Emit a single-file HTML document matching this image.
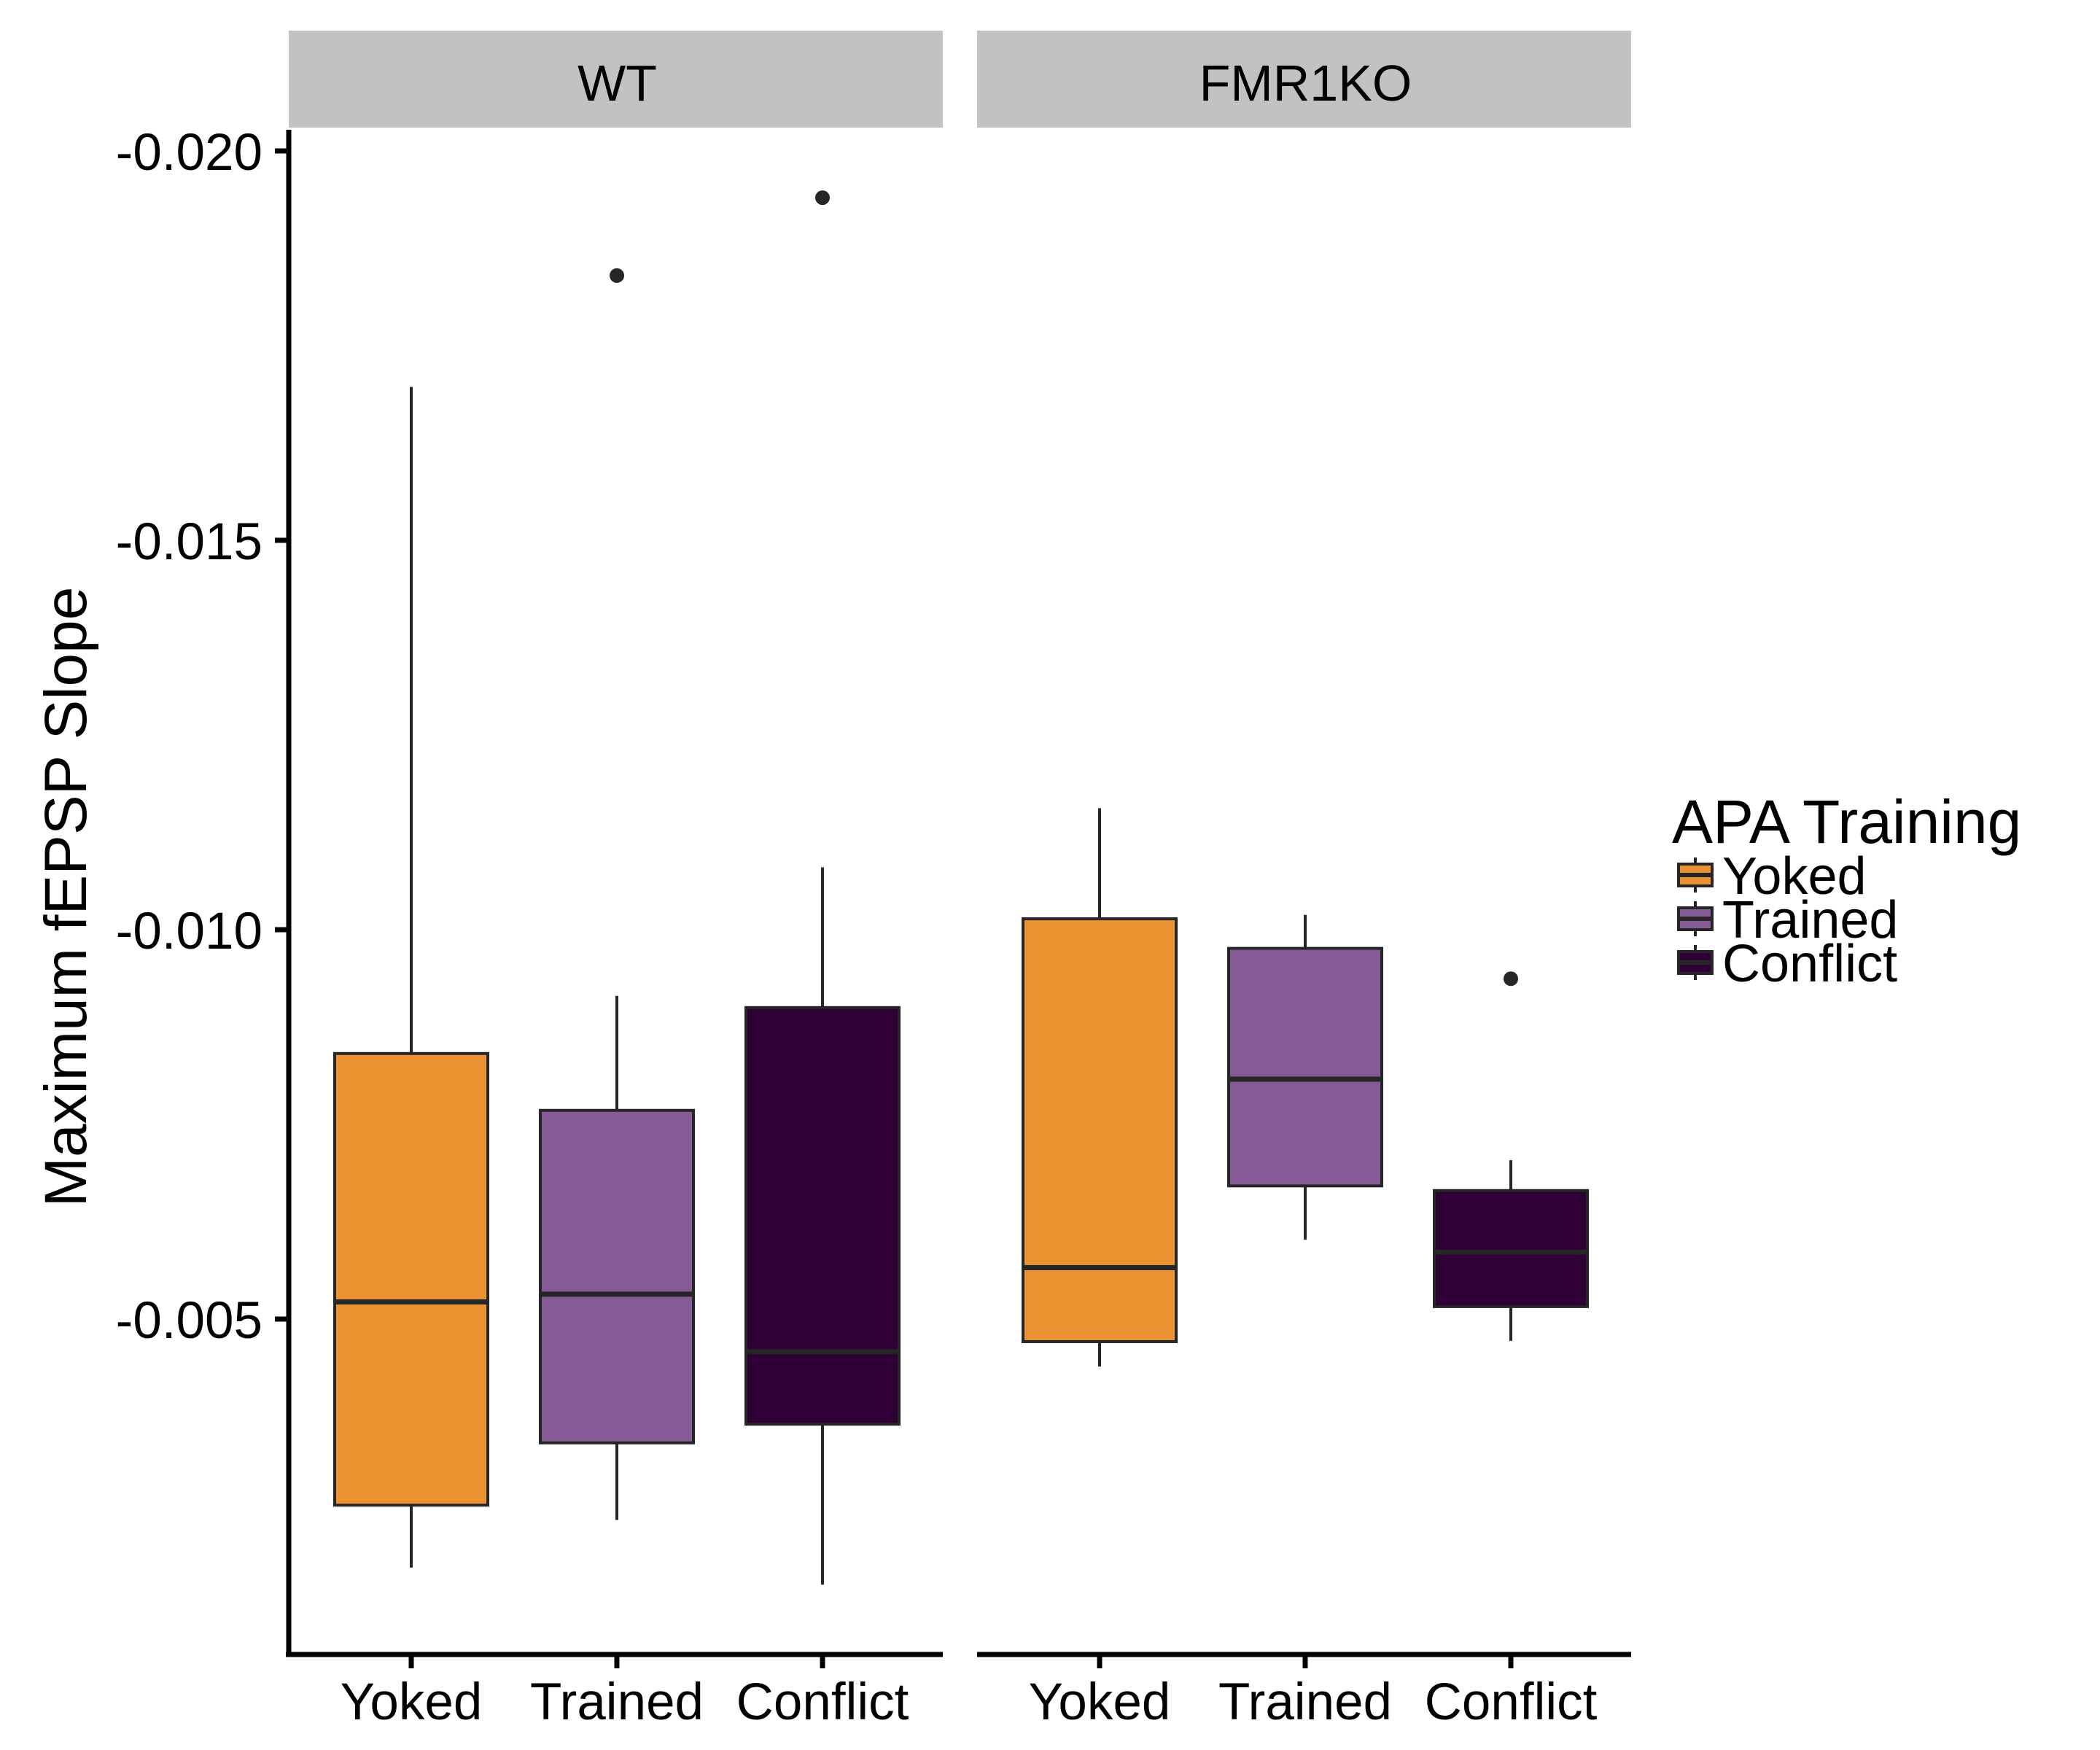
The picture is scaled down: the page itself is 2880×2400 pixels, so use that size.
<!DOCTYPE html>
<html><head><meta charset="utf-8"><style>
html,body{margin:0;padding:0;background:#fff;}
svg{display:block;font-family:"Liberation Sans",Arial,sans-serif;}
</style></head><body>
<svg id="chart" width="2880" height="2400" viewBox="0 0 2880 2400">
<g id="strips"></g>
<g id="axes"></g>
<g id="boxes"></g>
<g id="legend"></g>
</svg>
<script>
const panels = ["WT", "FMR1KO"];
const categories = ["Yoked", "Trained", "Conflict"];
const colors = ["#EB9233", "#865A97", "#2F0036"];
// values per panel [Yoked, Trained, Conflict]
const whiskerLow = [[-0.00181, -0.00242, -0.00159], [-0.00439, -0.00602, -0.00472]];
const q1 = [[-0.00261, -0.00341, -0.00365], [-0.00471, -0.00671, -0.00516]];
const median = [[-0.00522, -0.00532, -0.00458], [-0.00566, -0.00808, -0.00586]];
const q3 = [[-0.00841, -0.00768, -0.00900], [-0.01014, -0.00976, -0.00665]];
const whiskerHigh = [[-0.01697, -0.00915, -0.01080], [-0.01156, -0.01019, -0.00704]];
const outliers = [[[], [-0.0184], [-0.0194]], [[], [], [-0.00937]]];
const yTicks = [-0.020, -0.015, -0.010, -0.005];
const yTickLabels = ["-0.020", "-0.015", "-0.010", "-0.005"];

const NS = "http://www.w3.org/2000/svg";
function mk(tag, attrs, parent) {
  const e = document.createElementNS(NS, tag);
  for (const k in attrs) e.setAttribute(k, attrs[k]);
  parent.appendChild(e);
  return e;
}
const panelX = [396, 1340], panelW = 901, plotTop = 178, plotBottom = 2269;
function y(v) { return 207 + (v + 0.020) / 0.005 * 534; }
function x(p, i) { return panelX[p] + 168 + i * 282; }
const halfW = 105;

const strips = document.getElementById("strips");
const axes = document.getElementById("axes");
const boxes = document.getElementById("boxes");
const legend = document.getElementById("legend");

panels.forEach((p, pi) => {
  const r = mk("rect", {x: panelX[pi], y: 42, width: panelW - 4, height: 133, fill: "#C2C2C2"}, strips);
  
  
  const t = mk("text", {x: panelX[pi] + panelW / 2, y: 138, "font-size": 70, "text-anchor": "middle", fill: "#000"}, strips);
  t.textContent = p;
  
  
  const xl = mk("line", {x1: panelX[pi] - (pi === 0 ? 4 : 0), x2: panelX[pi] + panelW - 4, y1: plotBottom, y2: plotBottom, stroke: "#000", "stroke-width": 7}, axes);
  
  
  categories.forEach((c, ci) => {
    const tk = mk("line", {x1: x(pi, ci), x2: x(pi, ci), y1: plotBottom, y2: plotBottom + 19, stroke: "#000", "stroke-width": 7}, axes);
    
    
    const tl = mk("text", {x: x(pi, ci), y: 2358, "font-size": 71, "text-anchor": "middle", fill: "#000"}, axes);
    tl.textContent = c;
    
    

    const g = mk("g", {}, boxes);
    
    
    const cx = x(pi, ci);
    mk("line", {x1: cx, x2: cx, y1: y(whiskerHigh[pi][ci]), y2: y(q3[pi][ci]), stroke: "#262626", "stroke-width": 4}, g);
    mk("line", {x1: cx, x2: cx, y1: y(q1[pi][ci]), y2: y(whiskerLow[pi][ci]), stroke: "#262626", "stroke-width": 4}, g);
    mk("rect", {x: cx - halfW, y: y(q3[pi][ci]), width: 2 * halfW, height: y(q1[pi][ci]) - y(q3[pi][ci]), fill: colors[ci], stroke: "#262626", "stroke-width": 4}, g);
    mk("line", {x1: cx - halfW, x2: cx + halfW, y1: y(median[pi][ci]), y2: y(median[pi][ci]), stroke: "#262626", "stroke-width": 7}, g);
    outliers[pi][ci].forEach(o => {
      const d = mk("circle", {cx: cx, cy: y(o), r: 10, fill: "#262626"}, g);
      
      
    });
  });
});

const ya = mk("line", {x1: 396, x2: 396, y1: plotTop, y2: plotBottom + 3, stroke: "#000", "stroke-width": 7}, axes);


yTicks.forEach((v, i) => {
  const tk = mk("line", {x1: 377, x2: 396, y1: y(v), y2: y(v), stroke: "#000", "stroke-width": 7}, axes);
  
  
  const tl = mk("text", {x: 360, y: y(v) + 26, "font-size": 71, "text-anchor": "end", fill: "#000"}, axes);
  tl.textContent = yTickLabels[i];
  
  
});
const yt = mk("text", {x: 0, y: 0, "font-size": 82, "text-anchor": "middle", fill: "#000", transform: "translate(118,1230) rotate(-90)"}, axes);
yt.textContent = "Maximum fEPSP Slope";



const lt = mk("text", {x: 2293, y: 1156, "font-size": 84, fill: "#000"}, legend);
lt.textContent = "APA Training";


categories.forEach((c, ci) => {
  const g = mk("g", {}, legend);
  
  
  const cy = 1200 + ci * 60;
  mk("line", {x1: 2325, x2: 2325, y1: cy - 24, y2: cy + 24, stroke: "#262626", "stroke-width": 4}, g);
  mk("rect", {x: 2302, y: cy - 15, width: 46, height: 30, fill: colors[ci], stroke: "#262626", "stroke-width": 4}, g);
  mk("line", {x1: 2302, x2: 2348, y1: cy, y2: cy, stroke: "#262626", "stroke-width": 6}, g);
  const t = mk("text", {x: 2362, y: cy + 26, "font-size": 72, fill: "#000"}, g);
  t.textContent = c;
});
</script>
</body></html>
